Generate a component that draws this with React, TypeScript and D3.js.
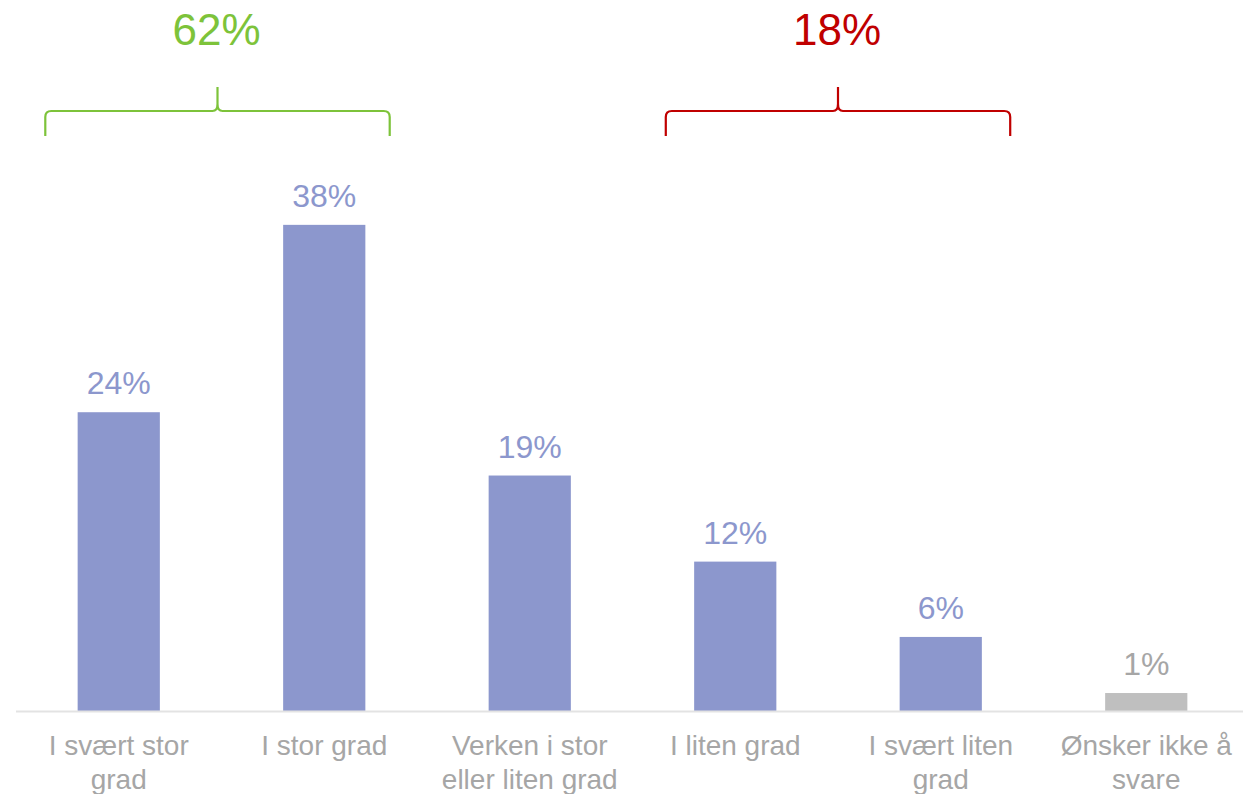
import React from "react";
import * as d3 from "d3";

const categories: string[][] = [
  ["I svært stor", "grad"],
  ["I stor grad"],
  ["Verken i stor", "eller liten grad"],
  ["I liten grad"],
  ["I svært liten", "grad"],
  ["Ønsker ikke å", "svare"],
];
const values: number[] = [23.6, 38.4, 18.6, 11.8, 5.85, 1.42];
const valueLabels: string[] = ["24%", "38%", "19%", "12%", "6%", "1%"];
const isNoAnswer: boolean[] = [false, false, false, false, false, true];

const groupRanges: [number, number][] = [[0, 1], [3, 4]];
const groupLabels: string[] = ["62%", "18%"];
const groupColors: string[] = ["#7DC33A", "#C00000"];

const W = 1243;
const H = 794;
const FONT = "Arial, 'Liberation Sans', sans-serif";

export default function App() {
  const ids = categories.map((_, i) => String(i));
  const x = d3.scaleBand<string>().domain(ids).range([16, 1249]).paddingInner(0.6).paddingOuter(0.3);
  const y = d3.scaleLinear().domain([0, 40]).range([711, 711 - 40 * 12.66]);
  const step = x.step();

  const bracket = (a: number, b: number, shift: number) => {
    const mid = ((x(String(a))! + x(String(b))!) / 2) + x.bandwidth() / 2 + shift;
    const half = step * 0.838;
    const l = mid - half;
    const r = mid + half;
    const top = 111;
    const bot = 136;
    const tip = 87;
    const rr = 6;
    const p = d3.path();
    p.moveTo(l, bot);
    p.lineTo(l, top + rr);
    p.quadraticCurveTo(l, top, l + rr, top);
    p.lineTo(mid - 5, top);
    p.quadraticCurveTo(mid, top, mid, top - 7);
    p.lineTo(mid, tip);
    p.moveTo(mid, tip);
    p.lineTo(mid, top - 7);
    p.quadraticCurveTo(mid, top, mid + 5, top);
    p.lineTo(r - rr, top);
    p.quadraticCurveTo(r, top, r, top + rr);
    p.lineTo(r, bot);
    return { d: p.toString(), mid };
  };

  return (
    <svg width={W} height={H} style={{ position: "absolute", left: 0, top: 0 }} fontFamily={FONT}>
      <rect width={W} height={H} fill="#ffffff" />
      {values.map((v, i) => {
        const bx = x(String(i))!;
        const cx = bx + x.bandwidth() / 2;
        return (
          <g key={i}>
            <rect x={bx} y={y(v)} width={x.bandwidth()} height={y(0) - y(v)} fill={isNoAnswer[i] ? "#BFBFBF" : "#8C97CD"} />
            <text x={cx} y={y(v) - 18} textAnchor="middle" fontSize={32} fill={isNoAnswer[i] ? "#A6A6A6" : "#8C97CD"}>
              {valueLabels[i]}
            </text>
            {categories[i].map((line, j) => (
              <text key={j} x={cx} y={755 + j * 34} textAnchor="middle" fontSize={28} fill="#A6A6A6">
                {line}
              </text>
            ))}
          </g>
        );
      })}
      <line x1={16} x2={W} y1={y(0) + 0.5} y2={y(0) + 0.5} stroke="#E3E3E3" strokeWidth={2} />
      {groupRanges.map(([a, b], gi) => {
        const br = bracket(a, b, gi === 0 ? -4 : 0);
        return (
          <g key={gi}>
            <path d={br.d} fill="none" stroke={groupColors[gi]} strokeWidth={2.2} />
            <text x={br.mid - 1} y={45} textAnchor="middle" fontSize={44} fill={groupColors[gi]}>
              {groupLabels[gi]}
            </text>
          </g>
        );
      })}
    </svg>
  );
}
